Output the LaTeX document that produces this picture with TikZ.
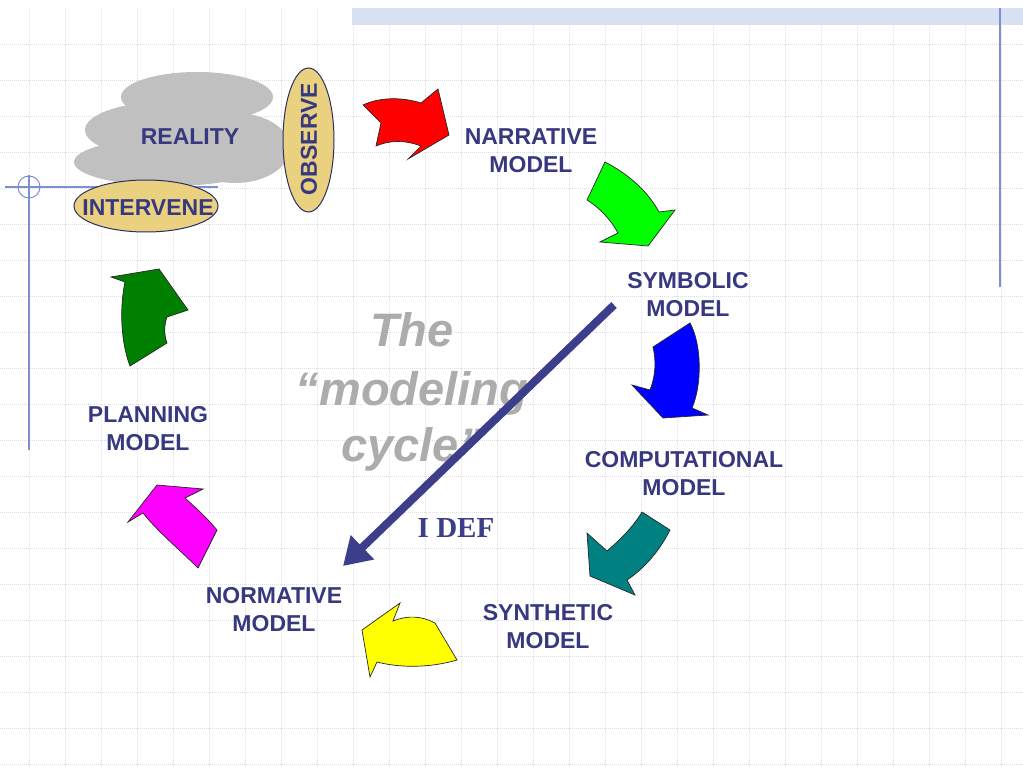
\documentclass[tikz,border=0pt]{standalone}
\usepackage{fontspec}
\setmainfont{Liberation Sans}
\newfontfamily\timesfont{Liberation Serif}
\usetikzlibrary{arrows.meta}
\definecolor{labelblue}{RGB}{56,56,128}
\definecolor{idefblue}{RGB}{60,62,140}
\definecolor{gridgray}{RGB}{222,222,228}
\definecolor{barblue}{RGB}{216,225,243}
\definecolor{decoblue}{RGB}{124,144,204}
\definecolor{cloudgray}{RGB}{192,192,192}
\definecolor{tan}{RGB}{233,209,128}
\definecolor{cyclegray}{RGB}{172,172,172}
\definecolor{arred}{RGB}{255,0,0}
\definecolor{argreen}{RGB}{0,255,0}
\definecolor{arblue}{RGB}{0,0,255}
\definecolor{arteal}{RGB}{0,128,128}
\definecolor{aryellow}{RGB}{255,255,0}
\definecolor{armagenta}{RGB}{255,0,255}
\definecolor{ardkgreen}{RGB}{0,128,0}
\begin{document}
\begin{tikzpicture}[x=1pt,y=-1pt,
  gridline/.style={draw=gridgray,line width=0.8pt,dash pattern=on 1pt off 1pt},
  lbl/.style={text=labelblue,font=\fontsize{23}{28}\selectfont\bfseries,align=center,inner sep=0pt},
  blockarrow/.style={draw=black!85,line width=0.7pt,line join=miter},
  ell/.style={fill=tan,draw=labelblue!80!black,line width=1pt},
  cyc/.style={text=cyclegray,font=\fontsize{47}{57}\selectfont\bfseries\itshape,anchor=base,inner sep=0pt}]
\useasboundingbox (0,0) rectangle (1023,767);
\fill[white] (0,0) rectangle (1023,767);
% grid
\foreach \x in {29,65,...,1019} \draw[gridline] (\x,8) -- (\x,767);
\foreach \y in {44,80,...,764} \draw[gridline] (0,\y) -- (1023,\y);
% top bar and decorative lines
\fill[barblue] (352,8) rectangle (1023,25);
\draw[decoblue,line width=1.3pt] (1000,8) -- (1000,287);
\draw[decoblue,line width=1.1pt] (29,175) -- (29,450);
% cloud
\fill[cloudgray] (197,97) ellipse [x radius=76,y radius=25];
\fill[cloudgray] (165,130) ellipse [x radius=80,y radius=28];
\fill[cloudgray] (170,162) ellipse [x radius=96,y radius=24];
\fill[cloudgray] (235,148) ellipse [x radius=55,y radius=35];
\draw[decoblue,line width=1.1pt] (5,187) -- (218,187);
\draw[decoblue,line width=1pt] (29,187) circle [radius=11];
% ellipses
\path[ell] (146,206) ellipse [x radius=72,y radius=26];
\path[ell] (308.5,140) ellipse [x radius=25.5,y radius=72];
% labels
\node[lbl] (reality) at (190,137) {REALITY};
\node[lbl] (intervene) at (148,208) {INTERVENE};
\node[lbl,rotate=90] (observe) at (309,139) {OBSERVE};
\node[lbl] (narrative) at (531,151) {NARRATIVE\\MODEL};
\node[lbl] (symbolic) at (688,295) {SYMBOLIC\\MODEL};
\node[lbl] (computational) at (684,474) {COMPUTATIONAL\\MODEL};
\node[lbl] (synthetic) at (548,627) {SYNTHETIC\\MODEL};
\node[lbl] (normative) at (274,610) {NORMATIVE\\MODEL};
\node[lbl] (planning) at (148,429) {PLANNING\\MODEL};
% block arrows
\path[blockarrow,fill=arred] (363,105) .. controls (380,97) and (402,97) .. (421,103) -- (438,89) -- (449,135) -- (408,159) -- (421,146) .. controls (405,140) and (390,140) .. (376,146) -- (381,123) -- cycle;
\path[blockarrow,fill=argreen] (605,162) .. controls (630,175) and (648,192) .. (659,212) -- (675,210) -- (648,246) -- (600,242) -- (618,233) .. controls (611,220) and (600,208) .. (587,200) -- cycle;
\path[blockarrow,fill=arblue] (690,323) .. controls (702,345) and (702,385) .. (692,408) -- (708,415) -- (663,418) -- (632,385) -- (650,390) .. controls (656,375) and (656,360) .. (653,347) -- cycle;
\path[blockarrow,fill=arteal] (642,512) -- (670,530) .. controls (660,550) and (645,568) .. (627,580) -- (635,595) -- (590,576) -- (587,533) -- (607,551) .. controls (620,540) and (633,527) .. (642,512) -- cycle;
\path[blockarrow,fill=aryellow] (435,623) -- (457,660) .. controls (430,668) and (400,668) .. (377,662) -- (370,677) -- (362,630) -- (400,603) -- (393,621) .. controls (408,615) and (422,616) .. (435,623) -- cycle;
\path[blockarrow,fill=armagenta] (217,530) -- (198,568) .. controls (180,550) and (158,532) .. (143,513) -- (128,522) -- (157,485) -- (203,489) -- (185,498) .. controls (196,508) and (207,518) .. (217,530) -- cycle;
\path[blockarrow,fill=ardkgreen] (130,366) .. controls (120,340) and (120,305) .. (125,282) -- (111,277) -- (159,269) -- (188,310) -- (167,317) .. controls (164,325) and (164,335) .. (167,343) -- cycle;
% modeling cycle text
\node[cyc] (cyc1) at (412,347) {The};
\node[cyc] (cyc2) at (412,405) {“modeling};
\node[cyc] (cyc3) at (412,461) {cycle”};
% IDEF arrow
\coordinate (idefStart) at (614,305);
\coordinate (idefEnd) at (343,566);
\draw[idefblue,line width=8pt,-{Triangle[length=27pt,width=32pt]}] (idefStart) -- (idefEnd);
\node[text=idefblue,font=\timesfont\fontsize{29}{34}\selectfont\bfseries,inner sep=0pt] (idef) at (456,528) {I DEF};
\end{tikzpicture}
\end{document}
